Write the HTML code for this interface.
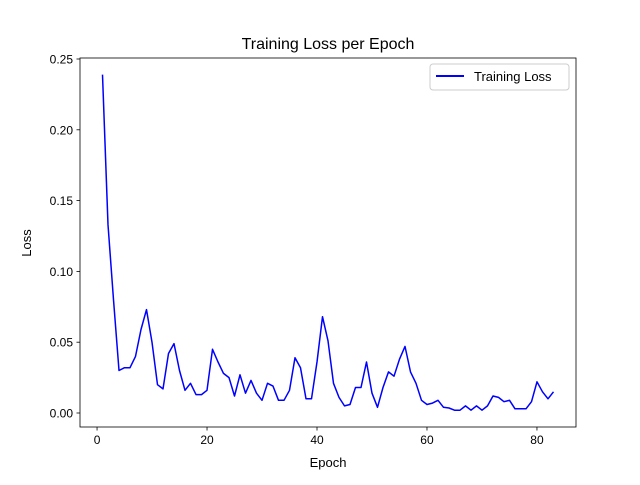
<!DOCTYPE html>
<html><head><meta charset="utf-8"><style>body{margin:0;background:#fff}svg{font-family:"Liberation Sans","DejaVu Sans",sans-serif}</style></head>
<body>
<svg id="chart" width="640" height="480">
<rect width="640" height="480" fill="#fff"/>
<text x="328" y="49" text-anchor="middle" font-size="16">Training Loss per Epoch</text>
<g id="axes"></g>
<text x="328" y="467" text-anchor="middle" font-size="13">Epoch</text>
<text transform="translate(31,243) rotate(-90)" text-anchor="middle" font-size="13">Loss</text>
<g>
<rect x="430" y="64" width="139" height="26" rx="3" fill="#fff" stroke="#ccc"/>
<line x1="436" y1="76" x2="464" y2="76" stroke="#0000ff" stroke-width="2"/>
<text x="474" y="81" font-size="13">Training Loss</text>
</g>
</svg>
<script>
const loss=[0.239,0.133,0.080,0.030,0.032,0.032,0.040,0.059,0.073,0.050,0.020,0.017,0.042,0.049,0.030,0.016,0.021,0.013,0.013,0.016,0.045,0.036,0.028,0.025,0.012,0.027,0.014,0.023,0.014,0.009,0.021,0.019,0.009,0.009,0.016,0.039,0.032,0.010,0.010,0.036,0.068,0.051,0.021,0.011,0.005,0.006,0.018,0.018,0.036,0.014,0.004,0.018,0.029,0.026,0.038,0.047,0.029,0.021,0.009,0.006,0.007,0.009,0.004,0.0035,0.002,0.002,0.005,0.002,0.005,0.002,0.005,0.012,0.011,0.008,0.009,0.003,0.003,0.003,0.008,0.022,0.015,0.010,0.015];
const xTicks=[0,20,40,60,80];
const yTicks=[0,0.05,0.10,0.15,0.20,0.25];
const L=80,R=576,T=58,B=427;
const n=loss.length;
const xmin=1-(n-1)*0.05,xmax=n+(n-1)*0.05;
const ymax0=Math.max(...loss),ymin0=Math.min(...loss);
const X=v=>L+(v-xmin)/(xmax-xmin)*(R-L);
const Y=v=>413-v*(413-59)/0.25;
const ns="http://www.w3.org/2000/svg";
const g=document.getElementById('axes');
function mk(t,a){const e=document.createElementNS(ns,t);for(const k in a)e.setAttribute(k,a[k]);g.appendChild(e);return e;}
let d=loss.map((v,i)=>(i?'L':'M')+X(i+1).toFixed(1)+','+Y(v).toFixed(1)).join('');
const p=mk('path',{d:d,fill:'none',stroke:'#0000ff','stroke-width':1.5,'stroke-linejoin':'round'});


const f=mk('rect',{x:L,y:T,width:R-L,height:B-T,fill:'none',stroke:'#000','stroke-width':0.8});


xTicks.forEach(t=>{const x=X(t);
const l=mk('line',{x1:x,x2:x,y1:B,y2:B+3.5,stroke:'#000','stroke-width':0.8});


const tx=mk('text',{x:x,y:B+17,'text-anchor':'middle','font-size':12});tx.textContent=t;

});
yTicks.forEach(t=>{const y=Y(t);
const l=mk('line',{x1:L-3.5,x2:L,y1:y,y2:y,stroke:'#000','stroke-width':0.8});


const tx=mk('text',{x:L-7,y:y+4.5,'text-anchor':'end','font-size':12});tx.textContent=t.toFixed(2);

});
</script>
</body></html>
